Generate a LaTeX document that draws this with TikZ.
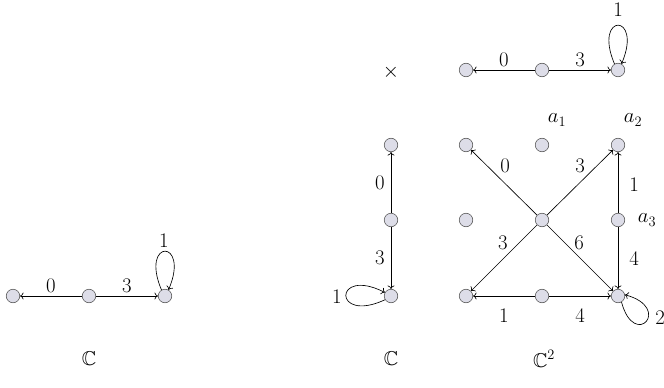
\documentclass[tikz,border=0pt]{standalone}
\usepackage{amssymb}
\usetikzlibrary{arrows.meta}
\begin{document}
\begin{tikzpicture}[x=1pt,y=-1pt,
  >={To[length=3.5pt,width=7pt]},
  vtx/.style={circle,draw=black!65,fill=vfill,minimum size=13.5pt,inner sep=0pt,line width=0.6pt},
  lbl/.style={font=\fontsize{20}{22}\selectfont,inner sep=1pt},
  arr/.style={->,line width=0.65pt},
  setlbl/.style={font=\fontsize{20}{22}\selectfont}]
\definecolor{vfill}{RGB}{221,221,232}
\useasboundingbox (0,0) rectangle (664,388);
% left graph
\node[vtx] (l1) at (13,296) {};
\node[vtx] (l2) at (89,296) {};
\node[vtx] (l3) at (165,296) {};
\draw[arr] (l2) -- node[lbl,above=2pt]{$0$} (l1);
\draw[arr] (l2) -- node[lbl,above=2pt]{$3$} (l3);
\draw[arr] (l3.120) .. controls +(-113:56) and +(-67:56) .. (l3.60);
\node[lbl] (l1lab) at (164,241) {$1$};
\node[setlbl] (cl) at (89,359) {$\mathbb{C}$};
% middle graph
\node[vtx] (m1) at (391,145) {};
\node[vtx] (m2) at (391,220) {};
\node[vtx] (m3) at (391,296) {};
\draw[arr] (m2) -- node[lbl,left=5pt]{$0$} (m1);
\draw[arr] (m2) -- node[lbl,left=5pt]{$3$} (m3);
\draw[arr] (m3.212) .. controls +(-205:58) and +(-153:58) .. (m3.150);
\node[lbl] (m1lab) at (337,297) {$1$};
\node[setlbl] (cm) at (391,359) {$\mathbb{C}$};
\node[setlbl] (times) at (391,72) {$\times$};
% top right graph
\node[vtx] (t1) at (466,70) {};
\node[vtx] (t2) at (542,70) {};
\node[vtx] (t3) at (618,70) {};
\draw[arr] (t2) -- node[lbl,above=2pt]{$0$} (t1);
\draw[arr] (t2) -- node[lbl,above=2pt]{$3$} (t3);
\draw[arr] (t3.120) .. controls +(-113:56) and +(-67:56) .. (t3.60);
\node[lbl] (t1lab) at (618,10) {$1$};
% grid
\node[vtx] (g11) at (466,145) {};
\node[vtx] (g12) at (542,145) {};
\node[vtx] (g13) at (618,145) {};
\node[vtx] (g21) at (466,220) {};
\node[vtx] (g22) at (542,220) {};
\node[vtx] (g23) at (618,220) {};
\node[vtx] (g31) at (466,296) {};
\node[vtx] (g32) at (542,296) {};
\node[vtx] (g33) at (618,296) {};
\draw[arr] (g22) -- (g11);
\draw[arr] (g22) -- (g13);
\draw[arr] (g22) -- (g31);
\draw[arr] (g22) -- (g33);
\draw[arr] (g23) -- (g13);
\draw[arr] (g23) -- (g33);
\draw[arr] (g32) -- (g31);
\draw[arr] (g32) -- (g33);
\draw[arr] (g33.300) .. controls +(75:50) and +(15:50) .. (g33.10);
\node[lbl] (e0) at (505,166) {$0$};
\node[lbl] (e3a) at (580,166) {$3$};
\node[lbl] (e3b) at (503,243) {$3$};
\node[lbl] (e6) at (579,243) {$6$};
\node[lbl] (e1a) at (634,185) {$1$};
\node[lbl] (e4a) at (634,259) {$4$};
\node[lbl] (e1b) at (504,316) {$1$};
\node[lbl] (e4b) at (580,316) {$4$};
\node[lbl] (e2) at (660,318) {$2$};
\node[lbl] (a1) at (557,120) {$a_1$};
\node[lbl] (a2) at (633,120) {$a_2$};
\node[lbl] (a3) at (647,220) {$a_3$};
\node[setlbl] (c2) at (544,359) {$\mathbb{C}^2$};
\end{tikzpicture}
\end{document}
